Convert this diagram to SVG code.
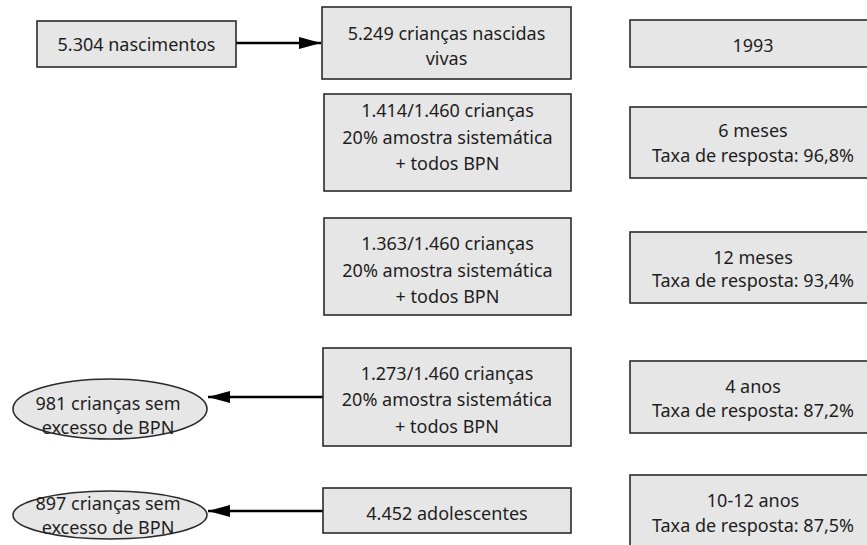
<svg xmlns="http://www.w3.org/2000/svg" width="867" height="545" viewBox="0 0 867 545">
<defs>
<style>
.box{fill:#e6e6e6;stroke:#2b2b2b;stroke-width:1.6}
.t{font-family:"Noto Sans","DejaVu Sans",sans-serif;font-size:18px;fill:#1e1e1e;text-anchor:middle}
.ln{stroke:#000;stroke-width:2.6;fill:none}
</style>
<marker id="ah2" viewBox="0 0 22 12" markerWidth="22" markerHeight="12" refX="22" refY="6" orient="auto" markerUnits="userSpaceOnUse">
<path d="M0,0 L22,6 L0,12 z" fill="#000"/>
</marker>
</defs>
<rect width="867" height="545" fill="#fff"/>
<g id="connectors">
<line class="ln" x1="236" y1="43" x2="321" y2="43" marker-end="url(#ah2)"/>
<line class="ln" x1="323" y1="397" x2="208" y2="397" marker-end="url(#ah2)"/>
<line class="ln" x1="323" y1="511" x2="208" y2="511" marker-end="url(#ah2)"/>
</g>
<g id="n-nascimentos">
<rect class="box" x="37" y="21" width="199" height="46"/>
<text class="t" x="136.5" y="51">5.304 nascimentos</text>
</g>
<g id="n-vivas">
<rect class="box" x="322" y="7" width="249" height="72"/>
<text class="t" x="446.5" y="40">5.249 crianças nascidas</text>
<text class="t" x="446.5" y="65">vivas</text>
</g>
<g id="n-6m">
<rect class="box" x="324" y="94" width="247" height="97"/>
<text class="t" x="447.5" y="117">1.414/1.460 crianças</text>
<text class="t" x="447.5" y="144">20% amostra sistemática</text>
<text class="t" x="447.5" y="170">+ todos BPN</text>
</g>
<g id="n-12m">
<rect class="box" x="324" y="218" width="247" height="97"/>
<text class="t" x="447.5" y="250">1.363/1.460 crianças</text>
<text class="t" x="447.5" y="277">20% amostra sistemática</text>
<text class="t" x="447.5" y="303">+ todos BPN</text>
</g>
<g id="n-4a">
<rect class="box" x="323" y="348" width="248" height="98"/>
<text class="t" x="447" y="380">1.273/1.460 crianças</text>
<text class="t" x="447" y="406">20% amostra sistemática</text>
<text class="t" x="447" y="433">+ todos BPN</text>
</g>
<g id="n-adol">
<rect class="box" x="323" y="488" width="248" height="45"/>
<text class="t" x="447" y="520">4.452 adolescentes</text>
</g>
<g id="n-e1">
<ellipse class="box" cx="110" cy="409" rx="97" ry="30"/>
<text class="t" x="108" y="410">981 crianças sem</text>
<text class="t" x="108" y="434">excesso de BPN</text>
</g>
<g id="n-e2">
<ellipse class="box" cx="110" cy="515" rx="97" ry="24"/>
<text class="t" x="108" y="510">897 crianças sem</text>
<text class="t" x="108" y="534">excesso de BPN</text>
</g>
<g id="n-1993">
<rect class="box" x="630" y="20" width="246" height="47"/>
<text class="t" x="753" y="52">1993</text>
</g>
<g id="n-r6">
<rect class="box" x="630" y="107" width="246" height="71"/>
<text class="t" x="753" y="137">6 meses</text>
<text class="t" x="753" y="162">Taxa de resposta: 96,8%</text>
</g>
<g id="n-r12">
<rect class="box" x="630" y="232" width="246" height="71"/>
<text class="t" x="753" y="264">12 meses</text>
<text class="t" x="753" y="287">Taxa de resposta: 93,4%</text>
</g>
<g id="n-r4">
<rect class="box" x="630" y="361" width="246" height="72"/>
<text class="t" x="753" y="393">4 anos</text>
<text class="t" x="753" y="417">Taxa de resposta: 87,2%</text>
</g>
<g id="n-r10">
<rect class="box" x="630" y="475" width="246" height="80"/>
<text class="t" x="753" y="507">10-12 anos</text>
<text class="t" x="753" y="532">Taxa de resposta: 87,5%</text>
</g>
</svg>
